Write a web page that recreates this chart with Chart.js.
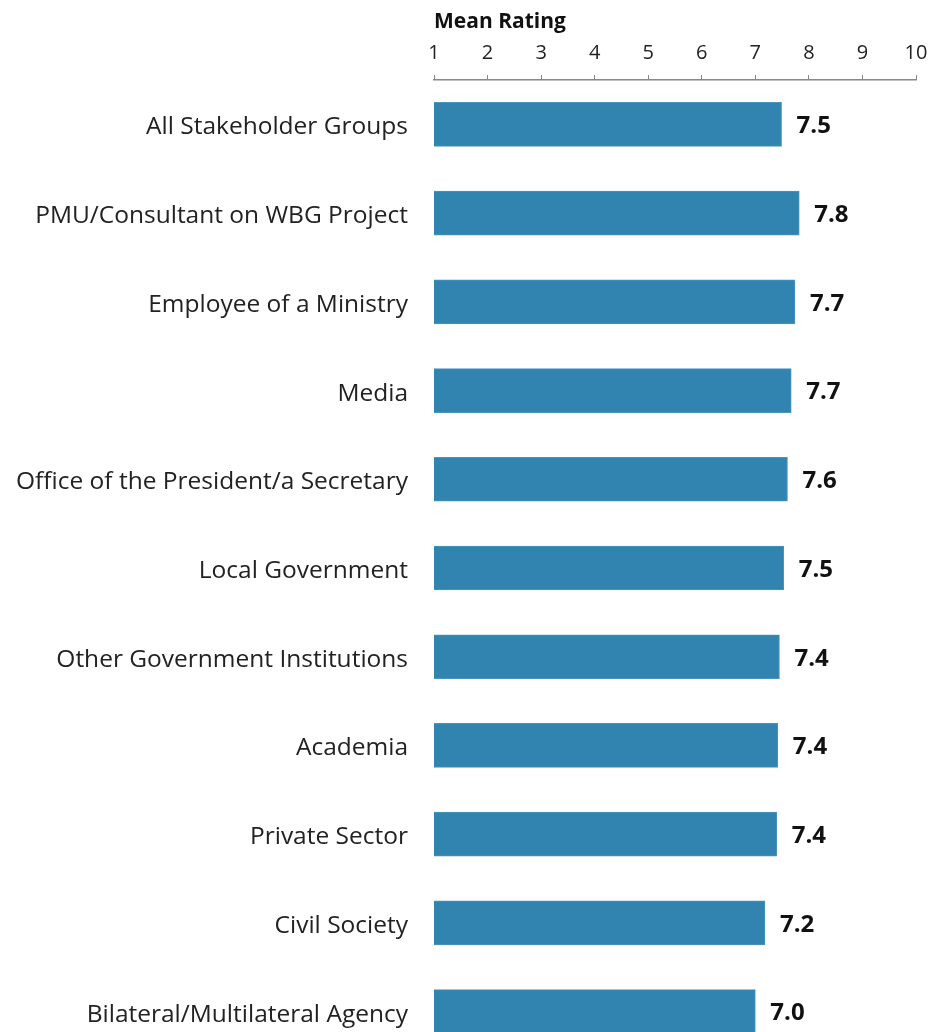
<!DOCTYPE html>
<html>
<head>
<meta charset="utf-8">
<script src="https://cdn.jsdelivr.net/npm/chart.js@4"></script>
<style>
  html, body { margin: 0; padding: 0; background: #fff; overflow: hidden; }
  #clip { width: 930px; height: 1032px; overflow: hidden; position: relative; }
  canvas { display: block; }
</style>
</head>
<body>
<div id="clip"><canvas id="chart" width="930" height="1056"></canvas></div>
<script>
// ── Data ──────────────────────────────────────────────────────────────
const groups = [
    'All Stakeholder Groups',
    'PMU/Consultant on WBG Project',
    'Employee of a Ministry',
    'Media',
    'Office of the President/a Secretary',
    'Local Government',
    'Other Government Institutions',
    'Academia',
    'Private Sector',
    'Civil Society',
    'Bilateral/Multilateral Agency'
];
const meanRating  = [7.49, 7.82, 7.74, 7.67, 7.60, 7.53, 7.45, 7.42, 7.40, 7.18, 7.00];
const shownRating = ['7.5', '7.8', '7.7', '7.7', '7.6', '7.5', '7.4', '7.4', '7.4', '7.2', '7.0'];
const axisMin = 1, axisMax = 10;

const FONT = '"Open Sans", sans-serif';

// ── Value labels next to the bars ─────────────────────────────────────
const valueLabels = {
    id: 'valueLabels',
    afterDatasetsDraw(chart) {
        const ctx  = chart.ctx;
        const meta = chart.getDatasetMeta(0);
        ctx.save();
        ctx.font = 'bold 24px ' + FONT;
        ctx.fillStyle = '#111';
        ctx.textAlign = 'left';
        ctx.textBaseline = 'middle';
        meta.data.forEach((bar, i) => {
            ctx.fillText(shownRating[i], bar.x + 15, bar.y + 2);
        });
        ctx.restore();
    }
};

new Chart(document.getElementById('chart'), {
    type: 'bar',
    data: {
        labels: groups,
        datasets: [{
            data: meanRating,
            backgroundColor: '#3284b0',
            borderColor: '#4a95bd',
            borderWidth: 1,
            barThickness: 44
        }]
    },
    options: {
        indexAxis: 'y',
        responsive: false,
        animation: false,
        layout: { padding: { left: 0, right: 14, top: 0, bottom: 0 } },
        plugins: { legend: { display: false }, tooltip: { enabled: false } },
        scales: {
            x: {
                position: 'top',
                min: axisMin, max: axisMax,
                // fixed header height, no auto padding for the end labels
                afterFit: s => { s.height = 80; s.paddingLeft = 0; s.paddingRight = 0; },
                ticks: { stepSize: 1, color: '#222', font: { family: FONT, size: 20 }, padding: 10 },
                grid: { drawOnChartArea: false, tickLength: 5, color: '#888', lineWidth: 1 },
                border: { color: '#888', width: 1.5 },
                title: {
                    display: true, text: 'Mean Rating', align: 'start',
                    color: '#111', font: { family: FONT, size: 21, weight: 'bold' },
                    padding: { top: 9, bottom: 0 }
                }
            },
            y: {
                afterFit: s => { s.width = 434; s.paddingTop = 0; s.paddingBottom = 0; },
                ticks: { color: '#222', font: { family: FONT, size: 24.5 }, padding: 18, labelOffset: 3 },
                grid: { display: false },
                border: { display: false }
            }
        }
    },
    plugins: [valueLabels]
});
</script>
</body>
</html>
